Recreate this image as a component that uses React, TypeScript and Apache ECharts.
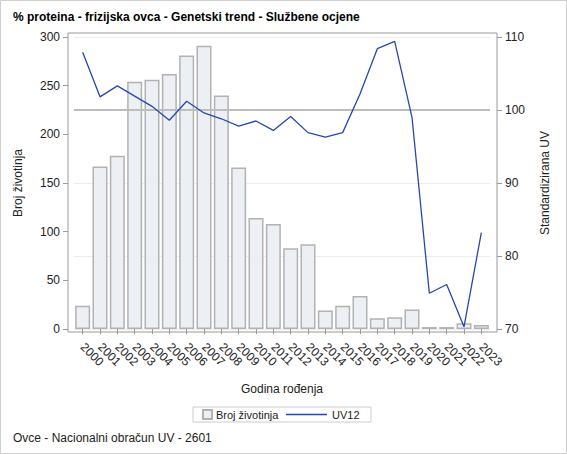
import React, { useEffect, useRef } from 'react';
import * as echarts from 'echarts';

// Godine rođenja (x axis categories)
const years = [
  '2000', '2001', '2002', '2003', '2004', '2005', '2006', '2007', '2008', '2009', '2010', '2011',
  '2012', '2013', '2014', '2015', '2016', '2017', '2018', '2019', '2020', '2021', '2022', '2023',
];

// Broj životinja (bars, left axis)
const brojZivotinja = [
  24, 167, 178, 254, 256, 262, 281, 291, 240, 166, 114, 108,
  83, 87, 19, 24, 34, 11, 12, 20, 2, 2, 6, 4,
];

// UV12 (line, right axis)
const uv12 = [
  107.9, 101.8, 103.3, 101.9, 100.5, 98.6, 101.2, 99.6, 98.8, 97.8, 98.5, 97.2,
  99.1, 96.9, 96.3, 96.9, 102.2, 108.4, 109.4, 99.0, 74.9, 76.1, 70.3, 83.2,
];

const FONT = '"Liberation Sans", Arial, sans-serif';
const TEXT = '#222';
const AXIS_GRAY = '#9a9a9a';
const LINE_BLUE = '#2448b0';

export default function App() {
  const ref = useRef<HTMLDivElement>(null);

  useEffect(() => {
    if (!ref.current) return;
    const chart = echarts.init(ref.current, null, { renderer: 'svg' });

    chart.setOption({
      animation: false,
      textStyle: { fontFamily: FONT },
      title: [
        {
          text: '% proteina - frizijska ovca - Genetski trend - Službene ocjene',
          left: 13,
          top: 11,
          padding: 0,
          textStyle: { fontFamily: FONT, fontSize: 12, fontWeight: 'bold', color: '#000' },
        },
        {
          text: 'Ovce - Nacionalni obračun UV - 2601',
          left: 13,
          top: 432,
          padding: 0,
          textStyle: { fontFamily: FONT, fontSize: 12, fontWeight: 'normal', color: TEXT },
        },
      ],
      legend: [
        {
          data: [{ name: 'Broj životinja', icon: 'rect' }],
          left: 202,
          top: 409,
          padding: 0,
          itemWidth: 9,
          itemHeight: 9,
          itemGap: 0,
          textStyle: { fontFamily: FONT, fontSize: 11, color: TEXT, padding: [0, 0, 0, -1] },
        },
        {
          data: [{ name: 'UV12', icon: 'rect' }],
          left: 286,
          top: 409,
          padding: 0,
          itemWidth: 41,
          itemHeight: 1.3,
          itemStyle: { color: LINE_BLUE },
          textStyle: { fontFamily: FONT, fontSize: 11, color: TEXT },
        },
      ],
      grid: { left: 74, right: 77, top: 37, bottom: 125 },
      graphic: [
        {
          type: 'rect',
          shape: { x: 0.5, y: 0.5, width: 566, height: 453 },
          style: { fill: 'none', stroke: '#cfcfcf', lineWidth: 1 },
          silent: true,
        },
        {
          type: 'rect',
          shape: { x: 68, y: 33, width: 429, height: 299 },
          style: { fill: 'none', stroke: AXIS_GRAY, lineWidth: 1 },
          silent: true,
          z: 10,
        },
        {
          type: 'rect',
          shape: { x: 193, y: 407, width: 178, height: 15 },
          style: { fill: 'none', stroke: '#cccccc', lineWidth: 1 },
          silent: true,
        },
      ],
      xAxis: {
        type: 'category',
        data: years,
        offset: 3,
        name: 'Godina rođenja',
        nameLocation: 'middle',
        nameGap: 51,
        nameTextStyle: { fontFamily: FONT, fontSize: 12, color: TEXT },
        axisLine: { show: false },
        axisTick: { show: true, alignWithLabel: true, length: 5, lineStyle: { color: AXIS_GRAY } },
        axisLabel: { interval: 0, rotate: -45, margin: 13, fontSize: 12, color: TEXT, fontFamily: FONT },
      },
      yAxis: [
        {
          type: 'value',
          min: 0,
          max: 300,
          interval: 50,
          offset: 6,
          name: 'Broj životinja',
          nameLocation: 'middle',
          nameRotate: 90,
          nameGap: 44,
          nameTextStyle: { fontFamily: FONT, fontSize: 12, color: TEXT },
          axisLine: { show: false },
          axisTick: { show: true, length: 5, lineStyle: { color: AXIS_GRAY } },
          axisLabel: { margin: 8, fontSize: 12, color: TEXT, fontFamily: FONT },
          splitLine: { show: false },
        },
        {
          type: 'value',
          min: 70,
          max: 110,
          interval: 10,
          offset: 7,
          position: 'right',
          name: 'Standardizirana UV',
          nameLocation: 'middle',
          nameRotate: 90,
          nameGap: 42,
          nameTextStyle: { fontFamily: FONT, fontSize: 12, color: TEXT },
          axisLine: { show: false },
          axisTick: { show: true, length: 5, lineStyle: { color: AXIS_GRAY } },
          axisLabel: { margin: 8, fontSize: 12, color: TEXT, fontFamily: FONT },
          splitLine: { show: true, lineStyle: { color: '#ececec', width: 1 } },
        },
      ],
      series: [
        {
          name: 'Broj životinja',
          type: 'bar',
          yAxisIndex: 0,
          data: brojZivotinja,
          barWidth: 15,
          itemStyle: { color: '#eceff4', borderColor: '#b2b2b2', borderWidth: 1.5 },
        },
        {
          name: 'UV12',
          type: 'line',
          yAxisIndex: 1,
          data: uv12,
          symbol: 'none',
          lineStyle: { color: LINE_BLUE, width: 1.3 },
          itemStyle: { color: LINE_BLUE },
          markLine: {
            silent: true,
            symbol: 'none',
            label: { show: false },
            lineStyle: { color: '#bdbdbd', width: 2, type: 'solid' },
            data: [{ yAxis: 100 }],
          },
          z: 5,
        },
      ],
    });

    return () => {
      chart.dispose();
    };
  }, []);

  return (
    <div
      ref={ref}
      style={{ position: 'absolute', left: 0, top: 0, width: 567, height: 454, background: '#fff' }}
    />
  );
}
